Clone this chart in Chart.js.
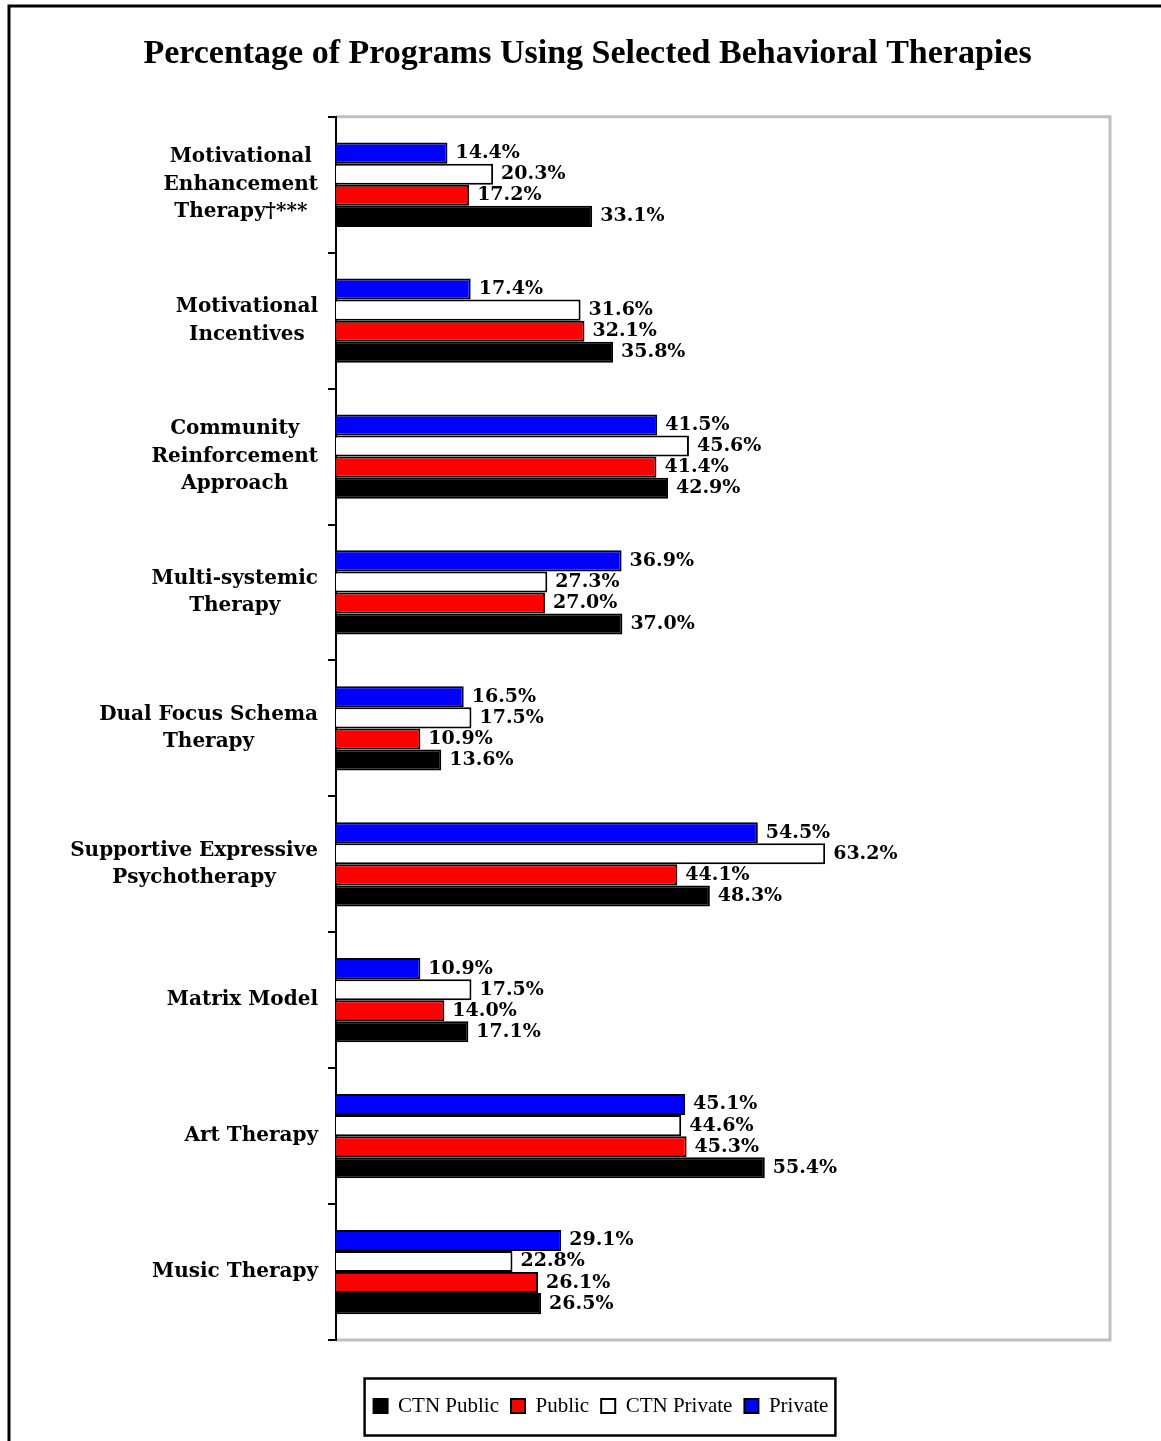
<!DOCTYPE html>
<html>
<head>
<meta charset="utf-8">
<script src="https://cdn.jsdelivr.net/npm/chart.js@4"></script>
<style>
  html, body { margin: 0; padding: 0; background: #fff; }
  #wrap { width: 1161px; height: 1441px; position: relative; }
</style>
</head>
<body>
<div id="wrap"><canvas id="c"></canvas></div>
<script>
// ---- data ----
const categories = [
  ["Motivational", "Enhancement", "Therapy\u2020***"],
  ["Motivational", "Incentives"],
  ["Community", "Reinforcement", "Approach"],
  ["Multi-systemic", "Therapy"],
  ["Dual Focus Schema", "Therapy"],
  ["Supportive Expressive", "Psychotherapy"],
  ["Matrix Model"],
  ["Art Therapy"],
  ["Music Therapy"]
];
const seriesNames = ["Private", "CTN Private", "Public", "CTN Public"];
const privateVals    = [14.4, 17.4, 41.5, 36.9, 16.5, 54.5, 10.9, 45.1, 29.1];
const ctnPrivateVals = [20.3, 31.6, 45.6, 27.3, 17.5, 63.2, 17.5, 44.6, 22.8];
const publicVals     = [17.2, 32.1, 41.4, 27.0, 10.9, 44.1, 14.0, 45.3, 26.1];
const ctnPublicVals  = [33.1, 35.8, 42.9, 37.0, 13.6, 48.3, 17.1, 55.4, 26.5];
const titleText = "Percentage of Programs Using Selected Behavioral Therapies";

// ---- styles ----
const fills = ["#0000ff", "#ffffff", "#ff0000", "#000000"];
const seriesData = [privateVals, ctnPrivateVals, publicVals, ctnPublicVals];

const LABEL_FONT = "bold 20px 'DejaVu Serif'";
const VALUE_FONT = "bold 19px 'DejaVu Serif'";

const decorPlugin = {
  id: 'decor',
  afterLayout(chart) {
    const lg = chart.legend;
    const dx = 601 - (lg.left + lg.right) / 2;
    lg.left += dx; lg.right += dx;
  },
  beforeDraw(chart) {
    const ctx = chart.ctx;
    ctx.save();
    ctx.fillStyle = '#fff';
    ctx.fillRect(0, 0, chart.width, chart.height);
    // outer frame (top and left)
    ctx.strokeStyle = '#000';
    ctx.lineWidth = 3;
    ctx.beginPath();
    ctx.moveTo(9, chart.height);
    ctx.lineTo(9, 6);
    ctx.lineTo(chart.width, 6);
    ctx.stroke();
    // gray plot frame
    const a = chart.chartArea;
    ctx.strokeStyle = '#c0c0c0';
    ctx.lineWidth = 3;
    ctx.beginPath();
    ctx.moveTo(a.left, a.top);
    ctx.lineTo(a.right, a.top);
    ctx.lineTo(a.right, a.bottom);
    ctx.lineTo(a.left, a.bottom);
    ctx.stroke();
    ctx.restore();
  },
  afterDraw(chart) {
    const ctx = chart.ctx;
    ctx.save();
    // category labels: block right-aligned, lines centred within block
    const ys = chart.scales.y;
    ctx.font = LABEL_FONT;
    ctx.fillStyle = '#000';
    ctx.textAlign = 'center';
    ctx.textBaseline = 'middle';
    const lh = 27.5;
    chart.data.labels.forEach((lines, i) => {
      const cy = ys.getPixelForValue(i);
      const w = Math.max(...lines.map(l => ctx.measureText(l).width));
      const cx = 318 - w / 2;
      lines.forEach((l, k) => {
        ctx.fillText(l, cx, cy + (k - (lines.length - 1) / 2) * lh);
      });
    });
    // value labels
    ctx.font = VALUE_FONT;
    ctx.textAlign = 'left';
    chart.data.datasets.forEach((ds, di) => {
      const meta = chart.getDatasetMeta(di);
      meta.data.forEach((el, j) => {
        ctx.fillText(ds.data[j].toFixed(1) + '%', el.x + 8, el.y);
      });
    });
    // legend frame
    const lg = chart.legend;
    const hb = lg.legendHitBoxes;
    if (hb && hb.length) {
      const l = Math.min(...hb.map(h => h.left));
      const r = Math.max(...hb.map(h => h.left + h.width));
      const cy = hb[0].top + hb[0].height / 2;
      ctx.strokeStyle = '#000';
      ctx.lineWidth = 2.5;
      ctx.strokeRect(l - 9, cy - 27.5, (r - l) + 16, 57);
    }
    ctx.restore();
  }
};

new Chart(document.getElementById('c'), {
  type: 'bar',
  data: {
    labels: categories,
    datasets: seriesNames.map((n, i) => ({
      label: n,
      data: seriesData[i],
      backgroundColor: fills[i],
      borderColor: '#000',
      borderWidth: 2,
      categoryPercentage: 0.62,
      barPercentage: 1.0
    }))
  },
  options: {
    indexAxis: 'y',
    responsive: true,
    maintainAspectRatio: false,
    animation: false,
    layout: { padding: { left: 65, right: 51, top: 10, bottom: 14.5 } },
    scales: {
      x: {
        min: 0, max: 100,
        display: true,
        grid: { display: false },
        border: { display: false },
        ticks: { display: false },
        afterFit(s) { s.height = 43.5; }
      },
      y: {
        grid: { drawOnChartArea: false, drawTicks: true, tickLength: 8, color: '#000', lineWidth: 2 },
        border: { display: true, color: '#000', width: 2 },
        ticks: { display: false },
        afterFit(s) { s.width = 271; }
      }
    },
    plugins: {
      title: {
        display: true,
        text: titleText,
        color: '#000',
        font: { family: "'Liberation Serif'", size: 34, weight: 'bold', lineHeight: 1.2 },
        padding: { top: 24, bottom: 42 }
      },
      legend: {
        display: true,
        position: 'bottom',
        reverse: true,
        labels: {
          color: '#000',
          font: { family: "'Liberation Serif'", size: 21 },
          boxWidth: 14,
          boxHeight: 14,
          padding: 12
        }
      },
      tooltip: { enabled: false }
    }
  },
  plugins: [decorPlugin]
});
</script>
</body>
</html>
